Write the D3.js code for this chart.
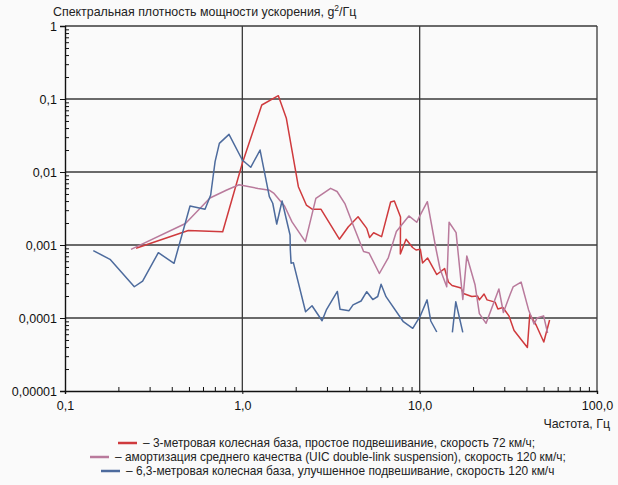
<!DOCTYPE html>
<html>
<head>
<meta charset="utf-8">
<script src="https://cdn.jsdelivr.net/npm/d3@7/dist/d3.min.js"></script>
<style>
  body { margin: 0; background: #fafafa; }
  svg { display: block; font-family: "Liberation Sans", Arial, sans-serif; }
</style>
</head>
<body>
<svg class="chart" width="618" height="485"></svg>
<script>
// tick values and labels
const xTicks = [0.1, 1, 10, 100]
const xTickLabels = ["0,1", "1,0", "10,0", "100,0"]
const yTicks = [1, 0.1, 0.01, 0.001, 0.0001, 0.00001]
const yTickLabels = ["1", "0,1", "0,01", "0,001", "0,0001", "0,00001"]

// 3-m wheelbase, simple suspension, 72 km/h
const redFreq = [0.2515, 0.496, 0.775, 1.0, 1.287, 1.596, 1.771, 2.07, 2.296, 2.488, 2.779, 3.525, 3.962, 4.494, 5.03, 5.22, 5.5, 6.1, 6.86, 7.2, 7.8, 7.78, 8.38, 9.12, 9.54, 10.09, 10.38, 11.08, 12.49, 13.82, 14.52, 15.23, 17.12, 17.64, 19.67, 21.21, 21.71, 23.08, 23.99, 26.62, 27.61, 29.46, 31.93, 34.07, 40.5, 41.78, 45.35, 50.11, 54.04]
const redPsd = [0.000901, 0.00158, 0.00152, 0.01316, 0.0828, 0.111, 0.0544, 0.00629, 0.00353, 0.00308, 0.00308, 0.0012, 0.00178, 0.00244, 0.00169, 0.00127, 0.00147, 0.0013, 0.00388, 0.00401, 0.00242, 0.000753, 0.0012, 0.000924, 0.000854, 0.000873, 0.000567, 0.000664, 0.000394, 0.000476, 0.000311, 0.000279, 0.000258, 0.000217, 0.000197, 0.0002, 0.000177, 0.000213, 0.000177, 0.000165, 0.000133, 0.000139, 0.000106, 0.0000674, 0.0000394, 0.000112, 0.0000802, 0.0000469, 0.0000939]

// UIC double-link suspension, 120 km/h
const mauveFreq = [0.2356, 0.478, 0.657, 0.817, 0.958, 1.226, 1.424, 1.509, 1.73, 1.906, 2.267, 2.598, 3.145, 3.421, 3.795, 4.183, 4.826, 5.184, 5.926, 6.66, 7.39, 8.69, 9.63, 10.05, 11.05, 12.3, 13.03, 14.21, 14.65, 16.05, 17.51, 18.44, 20.54, 21.71, 23.69, 27.97, 29.66, 32.35, 33.64, 37.32, 41.14, 44.19, 45.94, 49.98, 52.65]
const mauvePsd = [0.000873, 0.00197, 0.00441, 0.00567, 0.0067, 0.00594, 0.00561, 0.00508, 0.00342, 0.00207, 0.00111, 0.00436, 0.00598, 0.00541, 0.00365, 0.00197, 0.000815, 0.000777, 0.000407, 0.000674, 0.00153, 0.0025, 0.00205, 0.00254, 0.00392, 0.000939, 0.000469, 0.000268, 0.00205, 0.00148, 0.000179, 0.000707, 0.000283, 0.000115, 0.0000846, 0.00025, 0.000119, 0.00021, 0.000266, 0.000311, 0.000129, 0.0000828, 0.0001, 0.000107, 0.0000623]

// 6.3-m wheelbase, improved suspension, 120 km/h (null = break in the line)
const blueFreq = [0.1444, 0.1794, 0.246, 0.274, 0.336, 0.412, 0.507, 0.616, 0.663, 0.702, 0.742, 0.841, 1.0, 1.115, 1.259, 1.42, 1.484, 1.563, 1.675, 1.858, 1.865, 1.883, 1.94, 2.273, 2.472, 2.816, 2.977, 3.434, 3.557, 3.998, 4.21, 4.673, 5.03, 5.44, 5.8, 6.06, 6.46, 8.09, 9.14, 10.05, 11.01, 11.55, 12.49, 14.0, 15.29, 15.98, 17.51]
const bluePsd = [0.000836, 0.000637, 0.000268, 0.000321, 0.000785, 0.000561, 0.00342, 0.00308, 0.00484, 0.01384, 0.0247, 0.0328, 0.0146, 0.0116, 0.02, 0.00459, 0.00373, 0.00194, 0.00401, 0.00137, 0.000854, 0.000561, 0.000573, 0.000122, 0.000147, 0.0000918, 0.000129, 0.000231, 0.0001316, 0.000126, 0.000151, 0.000171, 0.000229, 0.000179, 0.000197, 0.00029, 0.000196, 0.0000889, 0.0000723, 0.000105, 0.000177, 0.000091, 0.0000643, null, 0.0000637, 0.000167, 0.0000637]

const seriesNames = [
  "– 3-метровая колесная база, простое подвешивание, скорость 72 км/ч;",
  "– амортизация среднего качества (UIC double-link suspension), скорость 120 км/ч;",
  "– 6,3-метровая колесная база, улучшенное подвешивание, скорость 120 км/ч"
]
const seriesColors = ["#cf3a3d", "#b97a9c", "#4d6b9d"]

const series = [
  {freq: redFreq, psd: redPsd},
  {freq: mauveFreq, psd: mauvePsd},
  {freq: blueFreq, psd: bluePsd}
].map(function(s, i){
  return {
    name: seriesNames[i],
    color: seriesColors[i],
    points: s.freq.map(function(f, j){ return {f: f, p: s.psd[j]} })
  }
})

const x = d3.scaleLog([0.1, 100], [65, 597])
const y = d3.scaleLog([0.00001, 1], [391, 26])

const svg = d3.select('.chart')

// minor values per decade
const xMinor = []
for (let d = 0.1; d < 100; d *= 10) for (let k = 2; k <= 9; k++) xMinor.push(+(d * k).toPrecision(3))
const yMinor = []
for (let d = 0.00001; d < 1; d *= 10) for (let k = 2; k <= 9; k++) yMinor.push(+(d * k).toPrecision(3))

// GRID
svg.append('g')
  .selectAll('line')
  .data(yTicks.slice(0, -1))
  .join('line')
  .attr('x1', x(0.1)).attr('x2', x(100))
  .attr('y1', d => y(d)).attr('y2', d => y(d))
  .attr('stroke', '#3a3a3a')
  .attr('stroke-width', 1.3)

svg.append('g')
  .selectAll('line')
  .data(xTicks.slice(1))
  .join('line')
  .attr('x1', d => x(d)).attr('x2', d => x(d))
  .attr('y1', y(1)).attr('y2', y(0.00001))
  .attr('stroke', '#3a3a3a')
  .attr('stroke-width', 1.3)

// CURVES
const line = d3.line()
  .defined(d => d.p != null)
  .x(d => x(d.f))
  .y(d => y(d.p))

svg.append('g')
  .selectAll('path')
  .data(series)
  .join('path')
  .attr('d', d => line(d.points))
  .attr('fill', 'none')
  .attr('stroke', d => d.color)
  .attr('stroke-width', 1.5)
  .attr('stroke-linejoin', 'round')

// Y AXIS
const yAxis = svg.append('g')
  .attr('transform', `translate(${x(0.1)},0)`)
  .call(d3.axisLeft(y).tickValues(yTicks).tickSize(5)
    .tickFormat((d, i) => yTickLabels[i]))
yAxis.append('g')
  .call(d3.axisLeft(y).tickValues(yMinor).tickSize(-4).tickFormat(''))
  .select('.domain').remove()

// X AXIS
const xAxis = svg.append('g')
  .attr('transform', `translate(0,${y(0.00001)})`)
  .call(d3.axisBottom(x).tickValues(xTicks).tickSize(3)
    .tickFormat((d, i) => xTickLabels[i]))
xAxis.append('g')
  .call(d3.axisBottom(x).tickValues(xMinor).tickSize(-4).tickFormat(''))
  .select('.domain').remove()

svg.selectAll('.domain').attr('stroke', '#111').attr('stroke-width', 1.4)
svg.selectAll('.tick line').attr('stroke', '#111')
yAxis.selectAll('text').attr('font-size', 12.5).attr('fill', '#111').attr('font-family', 'Liberation Sans, Arial, sans-serif')
xAxis.selectAll('text').attr('font-size', 12.5).attr('fill', '#111').attr('dy', '1.05em').attr('font-family', 'Liberation Sans, Arial, sans-serif')

// LABELS
const title = svg.append('text')
  .attr('x', 53).attr('y', 16)
  .attr('font-size', 12.4).attr('fill', '#222')
  .text('Спектральная плотность мощности ускорения, ')
title.append('tspan').text('g')
title.append('tspan').attr('font-size', 8.5).attr('dy', -5).text('2')
title.append('tspan').attr('dy', 5).text('/Гц')

svg.append('text')
  .attr('x', 610).attr('y', 428)
  .attr('text-anchor', 'end')
  .attr('font-size', 12.4).attr('fill', '#222')
  .text('Частота, Гц')

// LEGEND
const legendX = [118, 90, 101]
const legendY = [443, 457, 471]
const legend = svg.append('g')
  .selectAll('g')
  .data(series)
  .join('g')
  .attr('transform', (d, i) => `translate(${legendX[i]},${legendY[i]})`)
legend.append('line')
  .attr('x1', 0).attr('x2', 19)
  .attr('stroke', d => d.color)
  .attr('stroke-width', 2.5)
legend.append('text')
  .attr('x', 25).attr('y', 4)
  .attr('font-size', 11.9).attr('fill', '#222')
  .text(d => d.name)
</script>
</body>
</html>
